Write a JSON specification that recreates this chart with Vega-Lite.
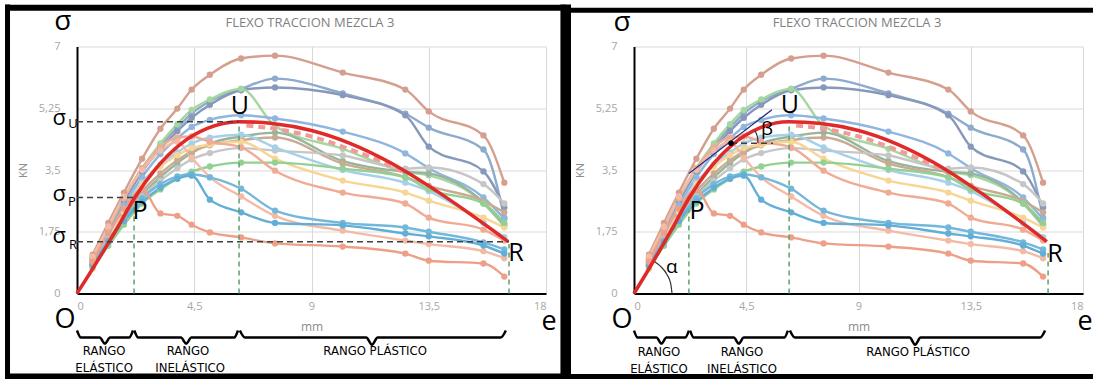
{
"$schema":"https://vega.github.io/schema/vega-lite/v6.json",
"background":"white",
"padding":{"left":2,"top":1.5,"right":0,"bottom":0},
"bounds":"flush",
"spacing":88,
"config":{"view":{"stroke":null},"font":"Open Sans"},
"datasets":{
"ser":[
{"s":"S01","x":0.6,"y":1.1},{"s":"S01","x":1.2,"y":2.0},{"s":"S01","x":1.8,"y":2.86},{"s":"S01","x":2.5,"y":3.82},{"s":"S01","x":3.2,"y":4.67},{"s":"S01","x":3.85,"y":5.24},{"s":"S01","x":4.4,"y":5.78},{"s":"S01","x":5.1,"y":6.2},{"s":"S01","x":6.3,"y":6.66},{"s":"S01","x":7.6,"y":6.74},{"s":"S01","x":10.2,"y":6.26},{"s":"S01","x":12.6,"y":5.78},{"s":"S01","x":13.5,"y":5.16},{"s":"S01","x":15.6,"y":4.48},{"s":"S01","x":16.4,"y":3.14},
{"s":"S02","x":0.6,"y":1.0},{"s":"S02","x":1.2,"y":1.85},{"s":"S02","x":1.8,"y":2.7},{"s":"S02","x":2.5,"y":3.55},{"s":"S02","x":3.2,"y":4.2},{"s":"S02","x":3.85,"y":4.7},{"s":"S02","x":4.4,"y":5.1},{"s":"S02","x":5.1,"y":5.45},{"s":"S02","x":6.3,"y":5.8},{"s":"S02","x":7.6,"y":6.09},{"s":"S02","x":10.2,"y":5.67},{"s":"S02","x":12.6,"y":5.1},{"s":"S02","x":13.5,"y":4.7},{"s":"S02","x":15.6,"y":4.08},{"s":"S02","x":16.4,"y":2.15},
{"s":"S03","x":0.6,"y":0.95},{"s":"S03","x":1.2,"y":1.8},{"s":"S03","x":1.8,"y":2.6},{"s":"S03","x":2.5,"y":3.45},{"s":"S03","x":3.2,"y":4.1},{"s":"S03","x":3.85,"y":4.6},{"s":"S03","x":4.4,"y":4.98},{"s":"S03","x":5.1,"y":5.35},{"s":"S03","x":6.3,"y":5.76},{"s":"S03","x":7.6,"y":5.84},{"s":"S03","x":10.2,"y":5.62},{"s":"S03","x":12.6,"y":5.05},{"s":"S03","x":13.5,"y":4.16},{"s":"S03","x":15.6,"y":3.46},{"s":"S03","x":16.4,"y":2.44},
{"s":"S04","x":0.6,"y":1.0},{"s":"S04","x":1.2,"y":1.85},{"s":"S04","x":1.8,"y":2.7},{"s":"S04","x":2.5,"y":3.55},{"s":"S04","x":3.2,"y":4.25},{"s":"S04","x":3.85,"y":4.8},{"s":"S04","x":4.4,"y":5.2},{"s":"S04","x":5.1,"y":5.5},{"s":"S04","x":6.3,"y":5.8},{"s":"S04","x":7.6,"y":4.75},{"s":"S04","x":10.2,"y":4.1},{"s":"S04","x":12.6,"y":3.45},{"s":"S04","x":13.5,"y":3.35},{"s":"S04","x":15.6,"y":2.55},{"s":"S04","x":16.4,"y":1.9},
{"s":"S05","x":0.6,"y":0.9},{"s":"S05","x":1.2,"y":1.7},{"s":"S05","x":1.8,"y":2.5},{"s":"S05","x":2.5,"y":3.3},{"s":"S05","x":3.2,"y":3.95},{"s":"S05","x":3.85,"y":4.4},{"s":"S05","x":4.4,"y":4.72},{"s":"S05","x":5.1,"y":4.92},{"s":"S05","x":6.3,"y":5.05},{"s":"S05","x":7.6,"y":4.96},{"s":"S05","x":10.2,"y":4.59},{"s":"S05","x":12.6,"y":3.97},{"s":"S05","x":13.5,"y":3.55},{"s":"S05","x":15.6,"y":2.72},{"s":"S05","x":16.4,"y":2.12},
{"s":"S06","x":0.6,"y":0.8},{"s":"S06","x":1.2,"y":1.5},{"s":"S06","x":1.8,"y":2.15},{"s":"S06","x":2.5,"y":2.8},{"s":"S06","x":3.2,"y":3.3},{"s":"S06","x":3.85,"y":3.7},{"s":"S06","x":4.4,"y":3.98},{"s":"S06","x":5.1,"y":4.25},{"s":"S06","x":6.3,"y":4.45},{"s":"S06","x":7.6,"y":4.56},{"s":"S06","x":10.2,"y":3.75},{"s":"S06","x":12.6,"y":3.45},{"s":"S06","x":13.5,"y":3.4},{"s":"S06","x":15.6,"y":2.58},{"s":"S06","x":16.4,"y":1.95},
{"s":"S07","x":0.6,"y":0.85},{"s":"S07","x":1.2,"y":1.55},{"s":"S07","x":1.8,"y":2.2},{"s":"S07","x":2.5,"y":2.9},{"s":"S07","x":3.2,"y":3.4},{"s":"S07","x":3.85,"y":3.78},{"s":"S07","x":4.4,"y":4.02},{"s":"S07","x":5.1,"y":4.2},{"s":"S07","x":6.3,"y":4.35},{"s":"S07","x":7.6,"y":4.42},{"s":"S07","x":10.2,"y":3.68},{"s":"S07","x":12.6,"y":3.3},{"s":"S07","x":13.5,"y":3.05},{"s":"S07","x":15.6,"y":2.62},{"s":"S07","x":16.4,"y":2.3},
{"s":"S08","x":0.6,"y":0.75},{"s":"S08","x":1.2,"y":1.45},{"s":"S08","x":1.8,"y":2.1},{"s":"S08","x":2.5,"y":2.75},{"s":"S08","x":3.2,"y":3.2},{"s":"S08","x":3.85,"y":3.55},{"s":"S08","x":4.4,"y":3.8},{"s":"S08","x":5.1,"y":3.98},{"s":"S08","x":6.3,"y":4.12},{"s":"S08","x":7.6,"y":4.05},{"s":"S08","x":10.2,"y":3.91},{"s":"S08","x":12.6,"y":3.54},{"s":"S08","x":13.5,"y":3.57},{"s":"S08","x":15.6,"y":3.1},{"s":"S08","x":16.4,"y":2.55},
{"s":"S09","x":0.6,"y":0.9},{"s":"S09","x":1.2,"y":1.65},{"s":"S09","x":1.8,"y":2.4},{"s":"S09","x":2.5,"y":3.15},{"s":"S09","x":3.2,"y":3.65},{"s":"S09","x":3.85,"y":4.0},{"s":"S09","x":4.4,"y":4.25},{"s":"S09","x":5.1,"y":4.42},{"s":"S09","x":6.3,"y":4.5},{"s":"S09","x":7.6,"y":4.14},{"s":"S09","x":10.2,"y":3.5},{"s":"S09","x":12.6,"y":3.14},{"s":"S09","x":13.5,"y":2.9},{"s":"S09","x":15.6,"y":2.0},{"s":"S09","x":16.4,"y":1.6},
{"s":"S10","x":0.6,"y":0.7},{"s":"S10","x":1.2,"y":1.5},{"s":"S10","x":1.8,"y":2.3},{"s":"S10","x":2.5,"y":3.1},{"s":"S10","x":3.2,"y":3.6},{"s":"S10","x":3.85,"y":3.92},{"s":"S10","x":4.4,"y":4.12},{"s":"S10","x":5.1,"y":4.22},{"s":"S10","x":6.3,"y":4.3},{"s":"S10","x":7.6,"y":3.82},{"s":"S10","x":10.2,"y":3.2},{"s":"S10","x":12.6,"y":2.86},{"s":"S10","x":13.5,"y":2.63},{"s":"S10","x":15.6,"y":2.15},{"s":"S10","x":16.4,"y":1.87},
{"s":"S11","x":0.6,"y":0.75},{"s":"S11","x":1.2,"y":1.35},{"s":"S11","x":1.8,"y":1.95},{"s":"S11","x":2.5,"y":2.55},{"s":"S11","x":3.2,"y":2.95},{"s":"S11","x":3.85,"y":3.25},{"s":"S11","x":4.4,"y":3.45},{"s":"S11","x":5.1,"y":3.6},{"s":"S11","x":6.3,"y":3.71},{"s":"S11","x":7.6,"y":3.71},{"s":"S11","x":10.2,"y":3.54},{"s":"S11","x":12.6,"y":3.29},{"s":"S11","x":13.5,"y":2.95},{"s":"S11","x":15.6,"y":2.55},{"s":"S11","x":16.4,"y":2.0},
{"s":"S12","x":0.6,"y":1.0},{"s":"S12","x":1.2,"y":1.85},{"s":"S12","x":1.8,"y":2.7},{"s":"S12","x":2.5,"y":3.55},{"s":"S12","x":3.2,"y":4.15},{"s":"S12","x":3.85,"y":4.42},{"s":"S12","x":4.4,"y":4.45},{"s":"S12","x":5.1,"y":4.3},{"s":"S12","x":6.3,"y":4.14},{"s":"S12","x":7.6,"y":3.48},{"s":"S12","x":10.2,"y":2.86},{"s":"S12","x":12.6,"y":2.55},{"s":"S12","x":13.5,"y":2.15},{"s":"S12","x":15.6,"y":1.81},{"s":"S12","x":16.4,"y":1.5},
{"s":"S13","x":0.6,"y":1.05},{"s":"S13","x":1.2,"y":1.9},{"s":"S13","x":1.8,"y":2.75},{"s":"S13","x":2.5,"y":3.5},{"s":"S13","x":3.2,"y":4.05},{"s":"S13","x":3.85,"y":4.3},{"s":"S13","x":4.4,"y":3.85},{"s":"S13","x":5.1,"y":3.3},{"s":"S13","x":6.3,"y":2.75},{"s":"S13","x":7.6,"y":2.2},{"s":"S13","x":10.2,"y":1.78},{"s":"S13","x":12.6,"y":1.5},{"s":"S13","x":13.5,"y":1.4},{"s":"S13","x":15.6,"y":1.2},{"s":"S13","x":16.4,"y":1.0},
{"s":"S14","x":0.6,"y":0.85},{"s":"S14","x":1.2,"y":1.5},{"s":"S14","x":1.8,"y":2.1},{"s":"S14","x":2.5,"y":2.7},{"s":"S14","x":3.2,"y":3.1},{"s":"S14","x":3.85,"y":3.32},{"s":"S14","x":4.4,"y":3.38},{"s":"S14","x":5.1,"y":3.29},{"s":"S14","x":6.3,"y":2.97},{"s":"S14","x":7.6,"y":2.35},{"s":"S14","x":10.2,"y":2.0},{"s":"S14","x":12.6,"y":1.87},{"s":"S14","x":13.5,"y":1.75},{"s":"S14","x":15.6,"y":1.45},{"s":"S14","x":16.4,"y":1.25},
{"s":"S15","x":0.6,"y":0.8},{"s":"S15","x":1.2,"y":1.45},{"s":"S15","x":1.8,"y":2.05},{"s":"S15","x":2.5,"y":2.6},{"s":"S15","x":3.2,"y":3.0},{"s":"S15","x":3.85,"y":3.25},{"s":"S15","x":4.4,"y":3.34},{"s":"S15","x":5.1,"y":2.66},{"s":"S15","x":6.3,"y":2.3},{"s":"S15","x":7.6,"y":2.0},{"s":"S15","x":10.2,"y":1.93},{"s":"S15","x":12.6,"y":1.7},{"s":"S15","x":13.5,"y":1.62},{"s":"S15","x":15.6,"y":1.36},{"s":"S15","x":16.4,"y":1.13},
{"s":"S16","x":0.6,"y":0.9},{"s":"S16","x":1.2,"y":1.7},{"s":"S16","x":1.8,"y":2.4},{"s":"S16","x":2.5,"y":2.95},{"s":"S16","x":3.2,"y":2.27},{"s":"S16","x":3.85,"y":2.2},{"s":"S16","x":4.4,"y":1.95},{"s":"S16","x":5.1,"y":1.73},{"s":"S16","x":6.3,"y":1.59},{"s":"S16","x":7.6,"y":1.42},{"s":"S16","x":10.2,"y":1.33},{"s":"S16","x":12.6,"y":1.13},{"s":"S16","x":13.5,"y":0.93},{"s":"S16","x":15.6,"y":0.85},{"s":"S16","x":16.4,"y":0.48}
],
"red":[{"x":0,"y":0},{"x":0.5,"y":0.58},{"x":1,"y":1.18},{"x":1.5,"y":1.8},{"x":2.2,"y":2.7},{"x":3,"y":3.52},{"x":4,"y":4.25},{"x":5,"y":4.68},{"x":6.2,"y":4.87},{"x":7.5,"y":4.82},{"x":9,"y":4.62},{"x":10.5,"y":4.25},{"x":12,"y":3.72},{"x":13.5,"y":3.05},{"x":15,"y":2.3},{"x":16.55,"y":1.47}],
"pink":[{"x":6.5,"y":4.76},{"x":8,"y":4.62},{"x":9,"y":4.45},{"x":10.5,"y":4.08},{"x":11.5,"y":3.8},{"x":12.5,"y":3.45}],
"hdashL":[{"x":0,"x2":6.22,"y":4.87},{"x":0,"x2":2.19,"y":2.72},{"x":0,"x2":16.58,"y":1.47}],
"vdashL":[{"x":2.19,"y":0,"y2":2.45},{"x":6.22,"y":0,"y2":4.8},{"x":16.58,"y":0,"y2":1.4}],
"vdashR":[{"x":2.2,"y":0,"y2":2.35},{"x":6.22,"y":0,"y2":4.76},{"x":16.6,"y":0,"y2":1.15}],
"hdashR":[{"x":3.89,"x2":5.57,"y":4.26}],
"tangent":[{"x":2.2,"x2":5.53,"y":3.4,"y2":5.21}],
"dot":[{"x":3.89,"y":4.26}],
"arcs":[{"a":"alpha","x":1.524,"y":0},{"a":"alpha","x":1.472,"y":0.278},{"a":"alpha","x":1.319,"y":0.539},{"a":"alpha","x":1.077,"y":0.761},{"a":"alpha","x":0.83,"y":0.9},
{"a":"beta","x":4.97,"y":4.26},{"a":"beta","x":4.96,"y":4.39},{"a":"beta","x":4.91,"y":4.52},{"a":"beta","x":4.845,"y":4.62}],
"bigL":[{"t":"U","x":6.25,"y":5.3},{"t":"P","x":2.42,"y":2.35},{"t":"R","x":16.85,"y":1.16}],
"bigR":[{"t":"U","x":6.25,"y":5.33},{"t":"P","x":2.53,"y":2.35},{"t":"R","x":16.88,"y":1.13}],
"greekR":[{"t":"β","x":5.33,"y":4.67},{"t":"α","x":1.52,"y":0.74}],
"sigTopL":[{"t":"σ","x":-0.54,"y":7.69}],
"sigTopR":[{"t":"σ","x":-0.48,"y":7.68}],
"sigL":[{"t":"σ","x":-0.68,"y":4.96},{"t":"σ","x":-0.68,"y":2.83},{"t":"σ","x":-0.68,"y":1.64}],
"subL":[{"t":"U","x":-0.15,"y":4.8},{"t":"P","x":-0.2,"y":2.59},{"t":"R","x":-0.15,"y":1.37}],
"oeL":[{"t":"O","x":-0.46,"y":-0.76},{"t":"e","x":18.12,"y":-0.82}],
"oeR":[{"t":"O","x":-0.48,"y":-0.76},{"t":"e","x":18.08,"y":-0.82}],
"titleL":[{"t":"FLEXO TRACCION MEZCLA 3","x":8.94,"y":7.68}],
"rangL":[{"t":"RANGO","x":1.04,"y":-1.64},{"t":"ELÁSTICO","x":1.04,"y":-2.12},{"t":"RANGO","x":4.26,"y":-1.64},{"t":"INELÁSTICO","x":4.34,"y":-2.12},{"t":"RANGO PLÁSTICO","x":11.44,"y":-1.64}],
"rangR":[{"t":"RANGO","x":1.0,"y":-1.67},{"t":"ELÁSTICO","x":1.0,"y":-2.15},{"t":"RANGO","x":4.33,"y":-1.67},{"t":"INELÁSTICO","x":4.33,"y":-2.15},{"t":"RANGO PLÁSTICO","x":11.39,"y":-1.67}],
"braceL":[{"b":1,"x":0,"y":-1.05},{"b":1,"x":0.15,"y":-1.25},{"b":1,"x":0.87,"y":-1.25},{"b":1,"x":1.07,"y":-1.42},{"b":1,"x":1.27,"y":-1.25},{"b":1,"x":2.0,"y":-1.25},{"b":1,"x":2.15,"y":-1.05},
{"b":2,"x":2.2,"y":-1.05},{"b":2,"x":2.35,"y":-1.25},{"b":2,"x":3.99,"y":-1.25},{"b":2,"x":4.19,"y":-1.42},{"b":2,"x":4.39,"y":-1.25},{"b":2,"x":6.03,"y":-1.25},{"b":2,"x":6.18,"y":-1.05},
{"b":3,"x":6.25,"y":-1.05},{"b":3,"x":6.45,"y":-1.25},{"b":3,"x":11.1,"y":-1.25},{"b":3,"x":11.32,"y":-1.45},{"b":3,"x":11.54,"y":-1.25},{"b":3,"x":16.26,"y":-1.25},{"b":3,"x":16.46,"y":-1.05}],
"braceR":[{"b":1,"x":0,"y":-1.05},{"b":1,"x":0.15,"y":-1.25},{"b":1,"x":0.9,"y":-1.25},{"b":1,"x":1.1,"y":-1.42},{"b":1,"x":1.3,"y":-1.25},{"b":1,"x":2.05,"y":-1.25},{"b":1,"x":2.2,"y":-1.05},
{"b":2,"x":2.25,"y":-1.05},{"b":2,"x":2.4,"y":-1.25},{"b":2,"x":4.0,"y":-1.25},{"b":2,"x":4.2,"y":-1.42},{"b":2,"x":4.4,"y":-1.25},{"b":2,"x":6.02,"y":-1.25},{"b":2,"x":6.17,"y":-1.05},
{"b":3,"x":6.25,"y":-1.05},{"b":3,"x":6.45,"y":-1.25},{"b":3,"x":11.05,"y":-1.25},{"b":3,"x":11.27,"y":-1.45},{"b":3,"x":11.49,"y":-1.25},{"b":3,"x":16.28,"y":-1.25},{"b":3,"x":16.48,"y":-1.05}],
"bHL":[{"x":-2.763,"x2":18.73,"y":8.1},{"x":-2.763,"x2":18.73,"y":-2.35}],
"bVL":[{"x":-2.667,"y":-2.44,"y2":8.19},{"x":18.65,"y":-2.44,"y2":8.19}],
"bHR":[{"x":-2.77,"x2":18.4,"y":8.03},{"x":-2.77,"x2":18.4,"y":-2.35}],
"bVR":[{"x":-2.646,"y":-2.44,"y2":8.19}]
},
"hconcat":[
{
"width":469,"height":247,
"encoding":{
"x":{"field":"x","type":"quantitative","scale":{"domain":[0,18],"nice":false,"zero":false},
"axis":{"values":[0,4.5,9,13.5,18],"title":"mm","labelExpr":"replace(toString(datum.value),'.',',')","grid":true,"gridColor":"#d9d9d9","domainColor":"#000000","domainWidth":2,"ticks":false,"labelColor":"#a6a6a6","labelFontSize":11,"labelPadding":7,"titleColor":"#8c8c8c","titleFontSize":12,"titleFontWeight":"normal","titlePadding":10,"labelFont":"Open Sans","titleFont":"Open Sans"}},
"y":{"field":"y","type":"quantitative","scale":{"domain":[0,7],"nice":false,"zero":false},
"axis":{"values":[0,1.75,3.5,5.25,7],"title":"KN","labelExpr":"replace(toString(datum.value),'.',',')","grid":true,"gridColor":"#d9d9d9","domainColor":"#000000","domainWidth":2,"ticks":false,"labelColor":"#a6a6a6","labelFontSize":11,"labelPadding":17,"titleColor":"#8c8c8c","titleFontSize":11,"titleFontWeight":"normal","titlePadding":10,"labelFont":"Open Sans","titleFont":"Open Sans"}}
},
"layer":[
{"data":{"name":"ser"},"mark":{"type":"line","interpolate":"monotone","strokeWidth":2.4,"point":{"filled":true,"size":40,"opacity":1}},
 "encoding":{"color":{"field":"s","type":"nominal","legend":null,"scale":{"domain":["S01","S02","S03","S04","S05","S06","S07","S08","S09","S10","S11","S12","S13","S14","S15","S16"],"range":["#d59f8e","#8eaacc","#8799bb","#a5d7a0","#8fb6de","#98b59b","#c9ab93","#c6c6c6","#a6d0e8","#f7d595","#92d192","#f1aa93","#f3bba6","#73b8da","#62aed6","#ee9f87"]}}}},
{"data":{"name":"pink"},"mark":{"type":"line","interpolate":"monotone","strokeWidth":4,"color":"#f29a9a","strokeDash":[7,5]},"encoding":{}},
{"data":{"name":"red"},"mark":{"type":"line","interpolate":"monotone","strokeWidth":3.5,"color":"#e02a2a"},"encoding":{}},
{"data":{"name":"hdashL"},"mark":{"type":"rule","color":"#404040","strokeWidth":1.5,"strokeDash":[6,4]},"encoding":{"x2":{"field":"x2"}}},
{"data":{"name":"vdashL"},"mark":{"type":"rule","color":"#5f9f70","strokeWidth":1.5,"strokeDash":[5,4]},"encoding":{"y2":{"field":"y2"}}},
{"data":{"name":"titleL"},"mark":{"type":"text","fontSize":13,"color":"#808080","font":"Open Sans","baseline":"middle"},"encoding":{"text":{"field":"t"}}},
{"data":{"name":"bigL"},"mark":{"type":"text","fontSize":25,"color":"#000000","font":"Open Sans","baseline":"middle"},"encoding":{"text":{"field":"t"}}},
{"data":{"name":"sigTopL"},"mark":{"type":"text","fontSize":28,"color":"#000000","font":"Open Sans","baseline":"middle"},"encoding":{"text":{"field":"t"}}},
{"data":{"name":"sigL"},"mark":{"type":"text","fontSize":22,"color":"#000000","font":"Open Sans","baseline":"middle"},"encoding":{"text":{"field":"t"}}},
{"data":{"name":"subL"},"mark":{"type":"text","fontSize":13,"color":"#000000","font":"Open Sans","baseline":"middle"},"encoding":{"text":{"field":"t"}}},
{"data":{"name":"oeL"},"mark":{"type":"text","fontSize":27,"color":"#000000","font":"Open Sans","baseline":"middle"},"encoding":{"text":{"field":"t"}}},
{"data":{"name":"rangL"},"mark":{"type":"text","fontSize":13,"color":"#000000","font":"Liberation Sans Narrow, DejaVu Sans Condensed, sans-serif","baseline":"middle"},"encoding":{"text":{"field":"t"}}},
{"data":{"name":"braceL"},"mark":{"type":"line","interpolate":"monotone","strokeWidth":2.5,"color":"#000000"},"encoding":{"detail":{"field":"b"}}},
{"data":{"name":"bHL"},"mark":{"type":"rule","color":"#000000","strokeWidth":6},"encoding":{"x2":{"field":"x2"}}},
{"data":{"name":"bVL"},"mark":{"type":"rule","color":"#000000","strokeWidth":5},"encoding":{"y2":{"field":"y2"}}}
]
},
{
"width":449,"height":247,
"encoding":{
"x":{"field":"x","type":"quantitative","scale":{"domain":[0,18],"nice":false,"zero":false},
"axis":{"values":[0,4.5,9,13.5,18],"title":"mm","labelExpr":"replace(toString(datum.value),'.',',')","grid":true,"gridColor":"#d9d9d9","domainColor":"#000000","domainWidth":2,"ticks":false,"labelColor":"#a6a6a6","labelFontSize":11,"labelPadding":7,"titleColor":"#8c8c8c","titleFontSize":12,"titleFontWeight":"normal","titlePadding":10,"labelFont":"Open Sans","titleFont":"Open Sans"}},
"y":{"field":"y","type":"quantitative","scale":{"domain":[0,7],"nice":false,"zero":false},
"axis":{"values":[0,1.75,3.5,5.25,7],"title":"KN","labelExpr":"replace(toString(datum.value),'.',',')","grid":true,"gridColor":"#d9d9d9","domainColor":"#000000","domainWidth":2,"ticks":false,"labelColor":"#a6a6a6","labelFontSize":11,"labelPadding":17,"titleColor":"#8c8c8c","titleFontSize":11,"titleFontWeight":"normal","titlePadding":10,"labelFont":"Open Sans","titleFont":"Open Sans"}}
},
"layer":[
{"data":{"name":"ser"},"mark":{"type":"line","interpolate":"monotone","strokeWidth":2.4,"point":{"filled":true,"size":40,"opacity":1}},
 "encoding":{"color":{"field":"s","type":"nominal","legend":null,"scale":{"domain":["S01","S02","S03","S04","S05","S06","S07","S08","S09","S10","S11","S12","S13","S14","S15","S16"],"range":["#d59f8e","#8eaacc","#8799bb","#a5d7a0","#8fb6de","#98b59b","#c9ab93","#c6c6c6","#a6d0e8","#f7d595","#92d192","#f1aa93","#f3bba6","#73b8da","#62aed6","#ee9f87"]}}}},
{"data":{"name":"pink"},"mark":{"type":"line","interpolate":"monotone","strokeWidth":4,"color":"#f29a9a","strokeDash":[7,5]},"encoding":{}},
{"data":{"name":"red"},"mark":{"type":"line","interpolate":"monotone","strokeWidth":3.5,"color":"#e02a2a"},"encoding":{}},
{"data":{"name":"tangent"},"mark":{"type":"rule","color":"#2b2d7a","strokeWidth":1.3},"encoding":{"x2":{"field":"x2"},"y2":{"field":"y2"}}},
{"data":{"name":"hdashR"},"mark":{"type":"rule","color":"#404040","strokeWidth":1.5,"strokeDash":[6,4]},"encoding":{"x2":{"field":"x2"}}},
{"data":{"name":"dot"},"mark":{"type":"point","filled":true,"size":30,"color":"#000000","opacity":1},"encoding":{}},
{"data":{"name":"arcs"},"mark":{"type":"line","interpolate":"monotone","strokeWidth":1.2,"color":"#333333"},"encoding":{"detail":{"field":"a"}}},
{"data":{"name":"vdashR"},"mark":{"type":"rule","color":"#5f9f70","strokeWidth":1.5,"strokeDash":[5,4]},"encoding":{"y2":{"field":"y2"}}},
{"data":{"name":"titleL"},"mark":{"type":"text","fontSize":13,"color":"#808080","font":"Open Sans","baseline":"middle"},"encoding":{"text":{"field":"t"}}},
{"data":{"name":"bigR"},"mark":{"type":"text","fontSize":25,"color":"#000000","font":"Open Sans","baseline":"middle"},"encoding":{"text":{"field":"t"}}},
{"data":{"name":"greekR"},"mark":{"type":"text","fontSize":19,"color":"#000000","font":"Open Sans","baseline":"middle"},"encoding":{"text":{"field":"t"}}},
{"data":{"name":"sigTopR"},"mark":{"type":"text","fontSize":28,"color":"#000000","font":"Open Sans","baseline":"middle"},"encoding":{"text":{"field":"t"}}},
{"data":{"name":"oeR"},"mark":{"type":"text","fontSize":27,"color":"#000000","font":"Open Sans","baseline":"middle"},"encoding":{"text":{"field":"t"}}},
{"data":{"name":"rangR"},"mark":{"type":"text","fontSize":13,"color":"#000000","font":"Liberation Sans Narrow, DejaVu Sans Condensed, sans-serif","baseline":"middle"},"encoding":{"text":{"field":"t"}}},
{"data":{"name":"braceR"},"mark":{"type":"line","interpolate":"monotone","strokeWidth":2.5,"color":"#000000"},"encoding":{"detail":{"field":"b"}}},
{"data":{"name":"bHR"},"mark":{"type":"rule","color":"#000000","strokeWidth":5},"encoding":{"x2":{"field":"x2"}}},
{"data":{"name":"bVR"},"mark":{"type":"rule","color":"#000000","strokeWidth":6},"encoding":{"y2":{"field":"y2"}}}
]
}
]
}
